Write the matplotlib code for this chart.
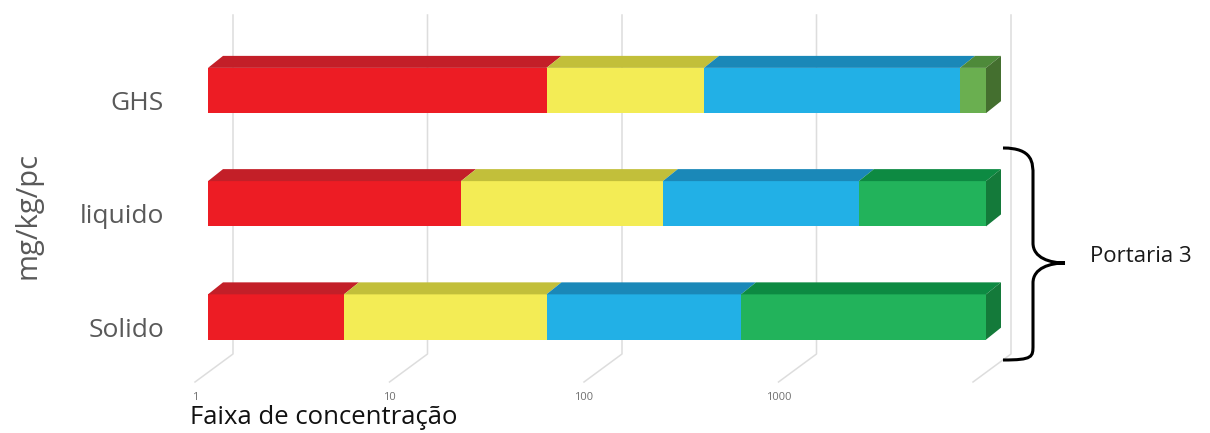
import numpy as np
import matplotlib.pyplot as plt
import matplotlib.transforms as mtransforms
from matplotlib.patches import Polygon, PathPatch
from matplotlib.path import Path

plt.rcParams['font.family'] = ['Open Sans', 'DejaVu Sans']

categories = ["Solido", "liquido", "GHS"]
# upper limit of each concentration band, mg/kg/pc
red_upper = [5, 20, 55]
yellow_upper = [55, 218, 355]
blue_upper = [550, 2220, 7350]
green_upper = [10000, 10000, 10000]
tick_values = [1, 10, 100, 1000, 10000]
tick_labels = ["1", "10", "100", "1000", ""]

front = ["#ED1C24", "#F3EC55", "#22B0E6", "#22B35B"]
top = ["#C31F28", "#C2BF3A", "#1A88B8", "#0D8A42"]
side_green = "#147A3A"
ghs_green = ("#6AAF50", "#4E8A3A", "#446F2F")

W, H, DPI = 1210, 433, 100
fig = plt.figure(figsize=(W / DPI, H / DPI), dpi=DPI)
ax = fig.add_axes([208 / W, 51 / H, 778 / W, 367 / H])
ax.set_xscale("log")
ax.set_xlim(1, 10000)
ax.set_ylim(-0.574, 2.667)
ax.axis("off")

bar_h = 0.40
depth = (15, 12)          # pixel offset of the bar's back face
floor_dx = -13            # floor front edge relative to bar front
wall = (25, 28)           # back wall: x from bar front, y up from floor

# back wall grid lines with their floor stubs
for v in tick_values:
    fx, fy = ax.transData.transform((v, -0.574))
    p0 = (fx + floor_dx, fy)
    p1 = (fx + wall[0], fy + wall[1])
    p2 = (fx + wall[0], H - 15)
    fig.add_artist(plt.Line2D([p0[0], p1[0], p2[0]], [p0[1], p1[1], p2[1]],
                              transform=mtransforms.IdentityTransform(),
                              color="#DDDDDD", lw=1.1, zorder=0))

for i, name in enumerate(categories):
    bounds = [1, red_upper[i], yellow_upper[i], blue_upper[i], green_upper[i]]
    for k in range(4):
        a, b = bounds[k], bounds[k + 1]
        fc, tc = front[k], top[k]
        if name == "GHS" and k == 3:
            fc, tc = ghs_green[0], ghs_green[1]
        ax.barh(i, b - a, left=a, height=bar_h, color=fc, zorder=3)
        (xa, yt), (xb, _) = ax.transData.transform([(a, i + bar_h / 2), (b, i + bar_h / 2)])
        fig.add_artist(Polygon([(xa, yt), (xb, yt), (xb + depth[0], yt + depth[1]),
                                (xa + depth[0], yt + depth[1])],
                               closed=True, facecolor=tc, edgecolor="none",
                               transform=mtransforms.IdentityTransform(), zorder=4))
    # right end face
    sc = ghs_green[2] if name == "GHS" else side_green
    (xe, yb), (_, yt) = ax.transData.transform([(bounds[-1], i - bar_h / 2), (bounds[-1], i + bar_h / 2)])
    fig.add_artist(Polygon([(xe, yb), (xe, yt), (xe + depth[0], yt + depth[1]),
                            (xe + depth[0], yb + depth[1])],
                           closed=True, facecolor=sc, edgecolor="none",
                           transform=mtransforms.IdentityTransform(), zorder=4))
    ax.text(1, i, name, ha="right", va="center", fontsize=19, color="#595959",
            transform=ax.transData + mtransforms.ScaledTranslation(-44 / DPI, -13 / DPI, fig.dpi_scale_trans))

for v, lab in zip(tick_values, tick_labels):
    ax.text(v, -0.574, lab, ha="center", va="center", fontsize=8, color="#707070",
            transform=ax.transData + mtransforms.ScaledTranslation(floor_dx / DPI, -16 / DPI, fig.dpi_scale_trans))

fig.text(28 / W, 1 - 215 / H, "mg/kg/pc", rotation=90, ha="center", va="center",
         fontsize=21, color="#595959")
fig.text(190 / W, 1 - 417 / H, "Faixa de concentração", ha="left", va="center",
         fontsize=18.5, color="#111111")
fig.text(1090 / W, 1 - 256 / H, "Portaria 3", ha="left", va="center",
         fontsize=16, color="#1A1A1A")

# curly brace spanning the Portaria 3 rows
def py(y):
    return H - y

verts = [(1003, py(148)), (1033, py(148)), (1033, py(163)), (1033, py(175)),
         (1033, py(243)),
         (1033, py(258)), (1050, py(263)), (1065, py(263)),
         (1050, py(263)), (1033, py(268)), (1033, py(283)),
         (1033, py(345)),
         (1033, py(357)), (1033, py(360)), (1003, py(360))]
codes = [Path.MOVETO, Path.CURVE4, Path.CURVE4, Path.CURVE4,
         Path.LINETO,
         Path.CURVE4, Path.CURVE4, Path.CURVE4,
         Path.CURVE4, Path.CURVE4, Path.CURVE4,
         Path.LINETO,
         Path.CURVE4, Path.CURVE4, Path.CURVE4]
fig.add_artist(PathPatch(Path(verts, codes), facecolor="none", edgecolor="black",
                         lw=2.2, transform=mtransforms.IdentityTransform(), zorder=5))

fig.savefig("out.png", dpi=DPI)
